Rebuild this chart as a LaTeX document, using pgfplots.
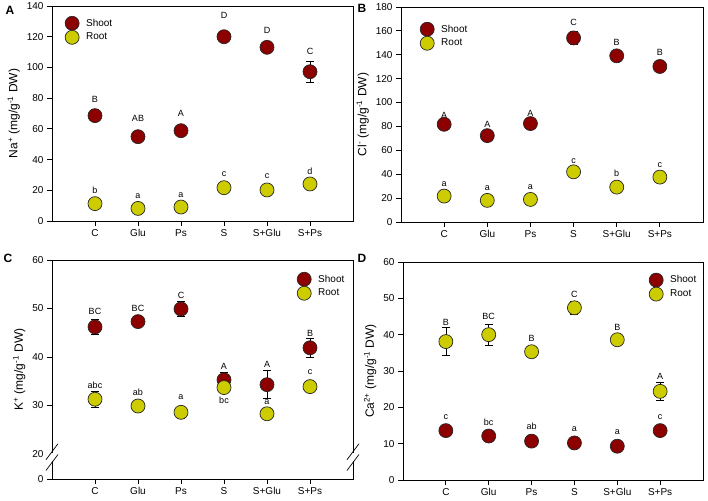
\documentclass[border=0pt]{standalone}
\usepackage{pgfplots}
\pgfplotsset{compat=1.18}
\usepackage{fontspec}
\setmainfont{Liberation Sans}
\definecolor{shoot}{RGB}{140,0,0}
\definecolor{root}{RGB}{204,204,0}
\pgfplotsset{
 panel/.style={scale only axis, anchor=south west, xmin=0, xmax=7,
   xtick={1,2,3,4,5,6}, xticklabels={C,Glu,Ps,S,S+Glu,S+Ps},
   tick pos=left, tick align=outside, major tick length=5pt,
   axis line style={line width=0.8pt}, tick style={line width=0.8pt, black},
   clip=false,
   ticklabel style={font=\fontsize{10}{12}\selectfont},
   label style={font=\fontsize{12}{14}\selectfont},
   /pgf/number format/assume math mode=true,
   legend style={draw=none, fill=none, inner sep=0pt, font=\fontsize{10}{12}\selectfont,
     row sep=0pt, column sep=5pt, legend cell align=left, anchor=north west},
   legend image code/.code={\draw[##1] plot coordinates {(0pt,0pt)};}},
 shootp/.style={only marks, mark=*, mark size=7pt,
   mark options={fill=shoot, draw=black!85, line width=0.7pt},
   error bars/y dir=both, error bars/y explicit,
   error bars/error bar style={black, line width=0.7pt},
   error bars/error mark options={rotate=90, mark size=4pt, black, line width=0.7pt}},
 rootp/.style={only marks, mark=*, mark size=7pt,
   mark options={fill=root, draw=black!85, line width=0.7pt},
   error bars/y dir=both, error bars/y explicit,
   error bars/error bar style={black, line width=0.7pt},
   error bars/error mark options={rotate=90, mark size=4pt, black, line width=0.7pt}},
}
\tikzset{sig/.style={font=\fontsize{9}{10}\selectfont, inner sep=0pt},
 plab/.style={font=\bfseries\fontsize{12}{14}\selectfont, inner sep=0pt}}
\begin{document}
\begin{tikzpicture}
\useasboundingbox (0,0) rectangle (708pt,500pt);
% ---------------- A ----------------
\begin{axis}[panel, at={(52pt,279pt)}, width=301pt, height=215pt,
  ymin=0, ymax=140, ytick={0,20,...,140},
  ylabel={Na\textsuperscript{+} (mg/g\textsuperscript{-1} DW)},
  legend style={at={(0.043,0.953)}}]
\addplot+[shootp] table[x=x, y=y, y error=e] {
x y e
1 68.6 4.0
2 54.9 1.5
3 58.8 1.5
4 120.0 3.5
5 113.1 1.5
6 97.2 6.7
};
\addlegendentry{Shoot}
\addplot+[rootp] table[x=x, y=y, y error=e] {
x y e
1 11.3 1.0
2 8.2 0.8
3 9.1 0.8
4 21.7 1.0
5 20.2 1.0
6 24.1 1.0
};
\addlegendentry{Root}
\node[sig] at (axis cs:1,79.2) {B};
\node[sig] at (axis cs:2,66.9) {AB};
\node[sig] at (axis cs:3,70.1) {A};
\node[sig] at (axis cs:4,133.7) {D};
\node[sig] at (axis cs:5,124.4) {D};
\node[sig] at (axis cs:6,110.3) {C};
\node[sig] at (axis cs:1,20.2) {b};
\node[sig] at (axis cs:2,16.5) {a};
\node[sig] at (axis cs:3,16.8) {a};
\node[sig] at (axis cs:4,30.4) {c};
\node[sig] at (axis cs:5,29.5) {c};
\node[sig] at (axis cs:6,32.6) {d};
\end{axis}
% ---------------- B ----------------
\begin{axis}[panel, at={(401pt,278pt)}, width=302pt, height=215pt,
  ymin=0, ymax=180, ytick={0,20,...,180},
  ylabel={Cl\textsuperscript{-} (mg/g\textsuperscript{-1} DW)},
  legend style={at={(0.063,0.93)}}]
\addplot+[shootp] table[x=x, y=y, y error=e] {
x y e
1 81.8 2.0
2 72.3 3.5
3 82.4 2.0
4 154.1 5.3
5 139.1 2.0
6 130.2 2.0
};
\addlegendentry{Shoot}
\addplot+[rootp] table[x=x, y=y, y error=e] {
x y e
1 21.7 2.0
2 18.1 1.5
3 18.9 1.5
4 42.0 2.0
5 29.2 1.5
6 37.6 2.5
};
\addlegendentry{Root}
\node[sig] at (axis cs:1,89.6) {A};
\node[sig] at (axis cs:2,82.1) {A};
\node[sig] at (axis cs:3,91.0) {A};
\node[sig] at (axis cs:4,166.7) {C};
\node[sig] at (axis cs:5,150.5) {B};
\node[sig] at (axis cs:6,141.6) {B};
\node[sig] at (axis cs:1,32.0) {a};
\node[sig] at (axis cs:2,28.1) {a};
\node[sig] at (axis cs:3,29.2) {a};
\node[sig] at (axis cs:4,51.2) {c};
\node[sig] at (axis cs:5,40.9) {b};
\node[sig] at (axis cs:6,47.6) {c};
\end{axis}
% ---------------- C ----------------
\begin{axis}[panel, at={(52pt,21pt)}, width=301pt, height=219pt,
  y coord trafo/.code={\pgfmathparse{(#1>19.99) ? (#1-14.85) : (#1*0.2575)}},
  y coord inv trafo/.code={\pgfmathparse{(#1>5.14) ? (#1+14.85) : (#1/0.2575)}},
  ymin=0, ymax=60, ytick={0,20,30,40,50,60}, yticklabels={0,20,30,40,50,60},
  ylabel={K\textsuperscript{+} (mg/g\textsuperscript{-1} DW)},
  legend style={at={(0.814,0.945)}}]
\addplot+[shootp] table[x=x, y=y, y error=e] {
x y e
1 46.2 1.6
2 47.3 0.6
3 49.9 1.5
4 35.3 1.5
5 34.3 2.9
6 41.9 1.9
};
\addlegendentry{Shoot}
\addplot+[rootp] table[x=x, y=y, y error=e] {
x y e
1 31.3 1.7
2 29.9 0.6
3 28.6 1.2
4 33.7 0.6
5 28.3 0.6
6 33.9 1.0
};
\addlegendentry{Root}
\node[sig] at (axis cs:1,49.3) {BC};
\node[sig] at (axis cs:2,50.1) {BC};
\node[sig] at (axis cs:3,52.8) {C};
\node[sig] at (axis cs:4,38.1) {A};
\node[sig] at (axis cs:5,38.4) {A};
\node[sig] at (axis cs:6,44.8) {B};
\node[sig] at (axis cs:1,34.1) {abc};
\node[sig] at (axis cs:2,32.8) {ab};
\node[sig] at (axis cs:3,31.8) {a};
\node[sig] at (axis cs:4,31.0) {bc};
\node[sig] at (axis cs:5,30.6) {a};
\node[sig] at (axis cs:6,36.8) {c};
% axis breaks
\fill[white] ([xshift=-6pt,yshift=-4pt]rel axis cs:0,0.10) rectangle ([xshift=6pt,yshift=4pt]rel axis cs:0,0.10);
\draw[line width=0.7pt] ([xshift=-6pt,yshift=-7pt]rel axis cs:0,0.12) -- ([xshift=6pt,yshift=9pt]rel axis cs:0,0.12);
\draw[line width=0.7pt] ([xshift=-6pt,yshift=-9pt]rel axis cs:0,0.08) -- ([xshift=6pt,yshift=7pt]rel axis cs:0,0.08);
\fill[white] ([xshift=-6pt,yshift=-4pt]rel axis cs:1,0.10) rectangle ([xshift=6pt,yshift=4pt]rel axis cs:1,0.10);
\draw[line width=0.7pt] ([xshift=-6pt,yshift=-7pt]rel axis cs:1,0.12) -- ([xshift=6pt,yshift=9pt]rel axis cs:1,0.12);
\draw[line width=0.7pt] ([xshift=-6pt,yshift=-9pt]rel axis cs:1,0.08) -- ([xshift=6pt,yshift=7pt]rel axis cs:1,0.08);
\end{axis}
% ---------------- D ----------------
\begin{axis}[panel, at={(403pt,20pt)}, width=300pt, height=218pt,
  ymin=0, ymax=60, ytick={0,10,...,60},
  ylabel={Ca\textsuperscript{2+} (mg/g\textsuperscript{-1} DW)},
  legend style={at={(0.82,0.95)}}]
\addplot+[shootp] table[x=x, y=y, y error=e] {
x y e
1 13.6 0.6
2 12.1 0.5
3 10.7 0.5
4 10.2 0.5
5 9.3 0.5
6 13.6 0.6
};
\addlegendentry{Shoot}
\addplot+[rootp] table[x=x, y=y, y error=e] {
x y e
1 38.1 3.9
2 40.0 2.9
3 35.3 1.2
4 47.4 1.8
5 38.6 0.6
6 24.4 2.5
};
\addlegendentry{Root}
\node[sig] at (axis cs:1,43.5) {B};
\node[sig] at (axis cs:2,44.9) {BC};
\node[sig] at (axis cs:3,38.9) {B};
\node[sig] at (axis cs:4,51.0) {C};
\node[sig] at (axis cs:5,42.1) {B};
\node[sig] at (axis cs:6,28.4) {A};
\node[sig] at (axis cs:1,17.4) {c};
\node[sig] at (axis cs:2,16.0) {bc};
\node[sig] at (axis cs:3,14.7) {ab};
\node[sig] at (axis cs:4,14.0) {a};
\node[sig] at (axis cs:5,13.3) {a};
\node[sig] at (axis cs:6,17.2) {c};
\end{axis}
\node[plab] at (10pt,490pt) {A};
\node[plab] at (362pt,492pt) {B};
\node[plab] at (8pt,242pt) {C};
\node[plab] at (362pt,242pt) {D};
\end{tikzpicture}
\end{document}
